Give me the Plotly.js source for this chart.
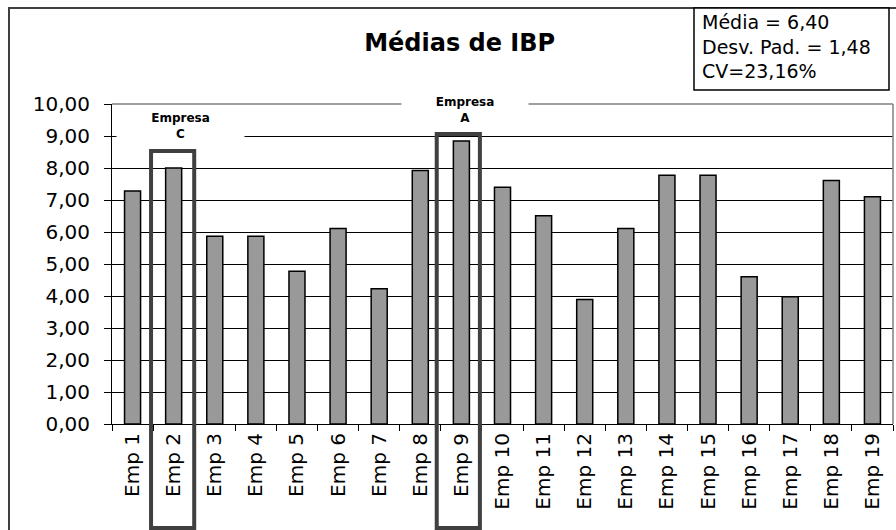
<!DOCTYPE html>
<html>
<head>
<meta charset="utf-8">
<script src="https://cdn.plot.ly/plotly-3.0.1.min.js"></script>
<style>html,body{margin:0;padding:0;background:#fff;}#chart{width:896px;height:530px;}</style>
</head>
<body>
<div id="chart"></div>
<script>
const categories = ["Emp 1","Emp 2","Emp 3","Emp 4","Emp 5","Emp 6","Emp 7","Emp 8","Emp 9","Emp 10",
  "Emp 11","Emp 12","Emp 13","Emp 14","Emp 15","Emp 16","Emp 17","Emp 18","Emp 19"];
const mediasIBP = [7.28, 8.00, 5.87, 5.87, 4.77, 6.11, 4.23, 7.92, 8.84, 7.40,
  6.51, 3.89, 6.11, 7.77, 7.77, 4.60, 3.98, 7.61, 7.10];
const yTickVals = [0,1,2,3,4,5,6,7,8,9,10];
const yTickText = ["0,00","1,00","2,00","3,00","4,00","5,00","6,00","7,00","8,00","9,00","10,00"];
const statsLines = ["Média = 6,40", "Desv. Pad. = 1,48", "CV=23,16%"];
const highlightLabels = ["Empresa<br>C", "Empresa<br>A"];

const FONT = "DejaVu Sans, Verdana, sans-serif";

const trace = {
  type: "bar",
  x: categories,
  y: mediasIBP,
  marker: {color: "#999999", line: {color: "#000000", width: 1.5}},
  hoverinfo: "none"
};

const frameColor = "#404040";
const layout = {
  width: 896, height: 530,
  margin: {l: 112, r: 3, t: 104, b: 106},
  paper_bgcolor: "#ffffff",
  plot_bgcolor: "#ffffff",
  showlegend: false,
  bargap: 0.61,
  font: {family: FONT, color: "#000000"},
  title: {
    text: "<b>Médias de IBP</b>",
    font: {family: FONT, size: 24, color: "#000000"},
    xref: "container", x: 0.513, xanchor: "center",
    yref: "container", y: 1 - 43/530, yanchor: "middle"
  },
  xaxis: {
    type: "category",
    showgrid: false,
    zeroline: false,
    showline: true, linecolor: "#000000", linewidth: 1,
    ticks: "outside", ticklen: 6, tickcolor: "#000000", tickwidth: 1,
    tickson: "boundaries",
    tickangle: -90,
    tickfont: {family: FONT, size: 20, color: "#000000"},
    fixedrange: true
  },
  yaxis: {
    range: [0, 10],
    tickvals: yTickVals,
    ticktext: yTickText,
    showgrid: true, gridcolor: "#000000", gridwidth: 1,
    zeroline: false,
    showline: true, linecolor: "#000000", linewidth: 1,
    ticks: "outside", ticklen: 7, tickcolor: "#000000", tickwidth: 1,
    ticklabelstandoff: 10,
    tickfont: {family: FONT, size: 20, color: "#000000"},
    fixedrange: true
  },
  shapes: [
    // plot area top & right border (gray)
    {type: "line", xref: "paper", yref: "paper", x0: 0, x1: 1, y0: 1, y1: 1,
     line: {color: "#808080", width: 1.5}, layer: "above"},
    {type: "line", xref: "paper", yref: "paper", x0: 1, x1: 1, y0: 0, y1: 1,
     line: {color: "#808080", width: 1.5}, layer: "above"},
    // outer chart frame
    {type: "rect", xref: "paper", yref: "paper",
     x0: (9-112)/781, x1: (900-112)/781, y0: (424-540)/320, y1: (424-8)/320,
     line: {color: frameColor, width: 2}, layer: "above"},
    // stats box
    {type: "rect", xref: "paper", yref: "paper",
     x0: (694-112)/781, x1: (889-112)/781, y0: (424-90)/320, y1: (424-8)/320,
     line: {color: "#000000", width: 1.5}, fillcolor: "#ffffff", layer: "above"},
    // highlight Emp 2
    {type: "rect", xref: "x", yref: "paper",
     x0: 0.45, x1: 1.5, y0: (424-528)/320, y1: (424-151)/320,
     line: {color: frameColor, width: 4}, layer: "above"},
    // highlight Emp 9
    {type: "rect", xref: "x", yref: "paper",
     x0: 7.4, x1: 8.45, y0: (424-528)/320, y1: (424-134)/320,
     line: {color: frameColor, width: 4}, layer: "above"}
  ],
  annotations: [
    {text: statsLines.join("<br>"), xref: "paper", yref: "paper",
     x: (700-112)/781, xanchor: "left", y: (424-47)/320, yanchor: "middle",
     align: "left", showarrow: false,
     font: {family: FONT, size: 19, color: "#000000"}},
    {text: "<b>" + highlightLabels[0] + "</b>", xref: "paper", yref: "paper",
     x: (180.5-112)/781, y: (424-126)/320, xanchor: "center", yanchor: "middle",
     showarrow: false, bgcolor: "#ffffff", width: 127, height: 36, borderpad: 0,
     font: {family: FONT, size: 12, color: "#000000"}},
    {text: "<b>" + highlightLabels[1] + "</b>", xref: "paper", yref: "paper",
     x: (465-112)/781, y: (424-110)/320, xanchor: "center", yanchor: "middle",
     showarrow: false, bgcolor: "#ffffff", width: 126, height: 36, borderpad: 0,
     font: {family: FONT, size: 12, color: "#000000"}}
  ]
};

Plotly.newPlot("chart", [trace], layout, {displayModeBar: false, staticPlot: true});
</script>
</body>
</html>
